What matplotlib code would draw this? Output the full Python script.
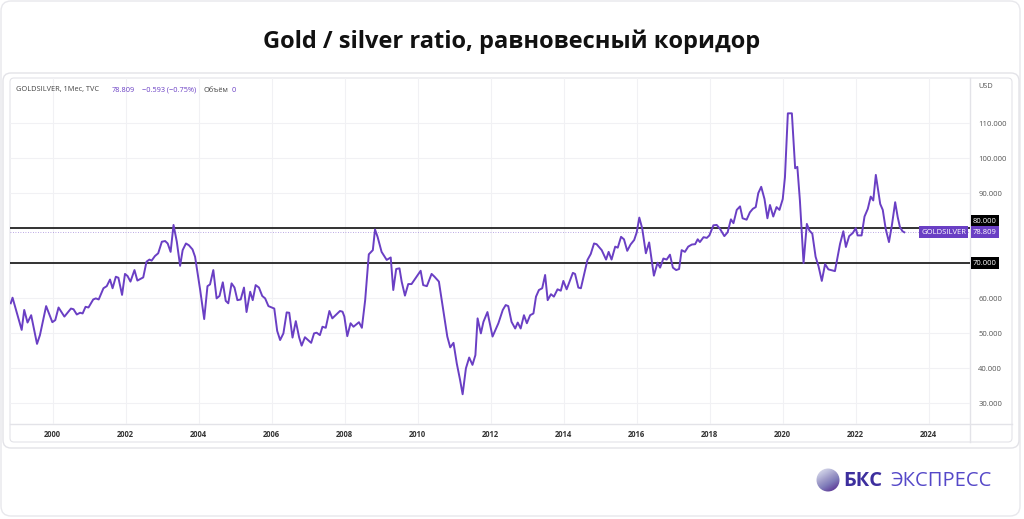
import matplotlib.pyplot as plt
import matplotlib.transforms as mtransforms
from matplotlib.patches import FancyBboxPatch, Circle
import numpy as np

# GOLDSILVER monthly ratio (decimal years)
years = [
    1998.85, 1998.90, 1999.15, 1999.22, 1999.31, 1999.41, 1999.57, 1999.65, 1999.82, 1999.99,
    2000.07, 2000.16, 2000.32, 2000.50, 2000.57, 2000.66, 2000.75, 2000.82, 2000.90, 2000.98,
    2001.11, 2001.18, 2001.26, 2001.39, 2001.48, 2001.57, 2001.64, 2001.73, 2001.80, 2001.90,
    2001.98, 2002.05, 2002.13, 2002.24, 2002.32, 2002.48, 2002.57, 2002.65, 2002.71, 2002.80,
    2002.89, 2002.99, 2003.08, 2003.15, 2003.23, 2003.31, 2003.40, 2003.49, 2003.56, 2003.65,
    2003.73, 2003.83, 2003.90, 2004.04, 2004.15, 2004.24, 2004.31, 2004.40, 2004.49, 2004.57,
    2004.66, 2004.74, 2004.81, 2004.90, 2004.98, 2005.06, 2005.15, 2005.24, 2005.31, 2005.41,
    2005.48, 2005.56, 2005.65, 2005.74, 2005.82, 2005.91, 2006.07, 2006.15, 2006.23, 2006.32,
    2006.41, 2006.48, 2006.57, 2006.66, 2006.75, 2006.82, 2006.91, 2007.08, 2007.16, 2007.23,
    2007.32, 2007.39, 2007.48, 2007.58, 2007.66, 2007.87, 2007.94, 2007.99, 2008.07, 2008.16,
    2008.24, 2008.39, 2008.47, 2008.56, 2008.66, 2008.77, 2008.83, 2008.90, 2009.01, 2009.15,
    2009.26, 2009.33, 2009.41, 2009.50, 2009.56, 2009.65, 2009.74, 2009.83, 2009.97, 2010.08,
    2010.15, 2010.25, 2010.38, 2010.46, 2010.58, 2010.70, 2010.81, 2010.89, 2010.98, 2011.07,
    2011.16, 2011.23, 2011.32, 2011.41, 2011.50, 2011.58, 2011.64, 2011.73, 2011.80, 2011.91,
    2012.05, 2012.21, 2012.33, 2012.41, 2012.48, 2012.57, 2012.67, 2012.74, 2012.82, 2012.91,
    2012.99, 2013.08, 2013.17, 2013.24, 2013.32, 2013.41, 2013.49, 2013.56, 2013.65, 2013.73,
    2013.83, 2013.92, 2013.99, 2014.08, 2014.25, 2014.31, 2014.40, 2014.47, 2014.65, 2014.74,
    2014.83, 2014.90, 2015.04, 2015.16, 2015.23, 2015.31, 2015.41, 2015.48, 2015.57, 2015.65,
    2015.74, 2015.83, 2015.93, 2016.00, 2016.07, 2016.15, 2016.25, 2016.34, 2016.47, 2016.57,
    2016.64, 2016.73, 2016.82, 2016.91, 2016.99, 2017.08, 2017.16, 2017.23, 2017.32, 2017.41,
    2017.51, 2017.60, 2017.67, 2017.73, 2017.83, 2017.92, 2017.99, 2018.10, 2018.19, 2018.28,
    2018.40, 2018.49, 2018.58, 2018.65, 2018.74, 2018.83, 2018.90, 2019.01, 2019.10, 2019.18,
    2019.26, 2019.33, 2019.41, 2019.50, 2019.58, 2019.65, 2019.74, 2019.83, 2019.91, 2020.00,
    2020.06, 2020.14, 2020.25, 2020.34, 2020.40, 2020.47, 2020.57, 2020.66, 2020.73, 2020.81,
    2020.90, 2020.98, 2021.07, 2021.16, 2021.25, 2021.43, 2021.57, 2021.66, 2021.73, 2021.82,
    2021.92, 2022.00, 2022.05, 2022.16, 2022.24, 2022.33, 2022.41, 2022.48, 2022.55, 2022.67,
    2022.74, 2022.82, 2022.91, 2022.99, 2023.08, 2023.15, 2023.21, 2023.28, 2023.33,
]
ratio = [
    58.5, 60.1, 50.9, 56.6, 53.0, 55.1, 46.9, 49.4, 57.7, 53.1,
    53.7, 57.3, 54.7, 57.0, 56.8, 55.3, 55.8, 55.6, 57.5, 57.3,
    59.6, 59.9, 59.6, 62.8, 63.4, 65.3, 62.8, 66.1, 65.8, 60.9,
    66.9, 66.3, 64.7, 68.0, 65.0, 65.9, 70.4, 71.0, 70.7, 72.0,
    72.8, 76.1, 76.3, 75.6, 73.2, 80.9, 76.1, 69.2, 73.7, 75.6,
    75.1, 73.9, 71.8, 62.3, 54.0, 63.4, 63.9, 68.0, 59.9, 60.6,
    64.5, 59.2, 58.5, 64.2, 63.0, 59.4, 59.6, 63.0, 56.0, 61.8,
    59.4, 63.7, 63.0, 60.6, 59.9, 57.7, 57.0, 50.6, 48.0, 49.9,
    55.9, 55.8, 48.7, 53.4, 48.8, 46.4, 48.8, 47.2, 49.9, 50.1,
    49.4, 51.8, 51.5, 56.3, 54.2, 56.3, 56.1, 54.7, 49.1, 52.8,
    51.8, 53.1, 51.5, 59.4, 72.5, 73.7, 79.6, 77.5, 73.2, 70.9,
    71.6, 62.3, 68.3, 68.5, 64.7, 60.7, 64.0, 64.0, 66.1, 67.8,
    63.7, 63.4, 66.9, 66.1, 64.7, 56.6, 49.0, 45.9, 47.2, 41.3,
    36.6, 32.5, 39.9, 43.0, 40.9, 43.7, 54.2, 49.9, 53.2, 56.0,
    49.0, 52.8, 56.6, 58.0, 57.7, 53.2, 51.3, 53.0, 51.3, 55.1,
    52.8, 55.1, 55.6, 60.4, 62.3, 62.8, 66.6, 59.4, 61.1, 60.4,
    62.5, 62.1, 64.9, 62.5, 67.2, 66.9, 63.0, 62.8, 70.9, 72.6,
    75.6, 75.4, 73.7, 71.0, 73.2, 71.0, 74.7, 74.4, 77.5, 76.8,
    73.5, 75.3, 76.6, 78.8, 83.0, 79.9, 72.8, 75.9, 66.4, 70.1,
    68.7, 71.3, 71.0, 72.4, 68.7, 68.0, 68.3, 73.7, 73.2, 74.7,
    75.3, 75.4, 76.8, 76.0, 77.4, 77.2, 77.9, 80.8, 80.9, 79.8,
    77.7, 78.8, 82.5, 81.4, 85.2, 86.2, 82.8, 82.4, 84.5, 85.5,
    86.0, 90.0, 91.8, 88.3, 82.8, 86.6, 83.3, 86.0, 85.2, 88.3,
    94.5, 112.8, 112.8, 97.1, 97.5, 87.9, 70.0, 81.2, 79.3, 78.4,
    71.8, 69.1, 64.9, 69.7, 68.2, 67.7, 75.5, 79.1, 74.6, 77.7,
    78.6, 80.0, 77.9, 77.9, 83.3, 85.5, 89.0, 87.9, 95.2, 86.9,
    85.2, 79.8, 76.0, 80.8, 87.4, 83.1, 80.3, 79.1, 78.8,
]

last_value = 78.809
upper_level = 80.0
lower_level = 70.0
y_ticks = [30, 40, 50, 60, 70, 80, 90, 100, 110]
x_ticks = list(range(2000, 2025, 2))

purple = '#6a3fc4'
frame = '#e3e3e8'
W, H = 1024, 519
plt.rcParams['font.family'] = ['Open Sans', 'DejaVu Sans']

fig = plt.figure(figsize=(W / 100, H / 100), dpi=100)
fig.patch.set_facecolor('white')

# background layer in pixel coordinates
bg = fig.add_axes([0, 0, 1, 1], zorder=0)
bg.add_patch(FancyBboxPatch((1, 1), 1019, 515, boxstyle='round,pad=0,rounding_size=10',
                            fc='white', ec='#e8e8ec', lw=1))
bg.add_patch(FancyBboxPatch((3, 73), 1016, 375, boxstyle='round,pad=0,rounding_size=8',
                            fc='white', ec=frame, lw=1))
bg.add_patch(FancyBboxPatch((10, 78), 1002, 364, boxstyle='round,pad=0,rounding_size=4',
                            fc='white', ec=frame, lw=0.8))
bg.plot([970, 970], [78, 442], color=frame, lw=1)
bg.plot([10, 1012], [424, 424], color=frame, lw=1)

bg.text(512, 42, 'Gold / silver ratio, равновесный коридор', ha='center', va='center',
        fontsize=17, fontweight='bold', color='#111111')

# logo
grad = np.linspace(0, 1, 64).reshape(-1, 1) + np.linspace(0, 0.6, 64).reshape(1, -1)
logo = bg.imshow(grad, cmap='Purples', vmin=-0.4, vmax=1.8, extent=(816, 840, 492, 468), zorder=2)
circ = Circle((828, 480), 11.5, fc='none', ec='none')
bg.add_patch(circ)
logo.set_clip_path(circ)
bg.set_xlim(0, W)
bg.set_ylim(H, 0)
bg.axis('off')
bg.text(843, 481, 'БКС', fontsize=14.5, fontweight='bold', color='#3d2f9e', va='center')
bg.text(890, 481, 'ЭКСПРЕСС', fontsize=14.5, color='#5548c8', va='center')

# chart
ax = fig.add_axes([10 / W, 1 - 424 / H, 960 / W, 346 / H], zorder=1)
ax.set_facecolor('none')
ax.set_xlim(1998.83, 2025.13)
ax.set_ylim(24.0, 122.9)
ax.set_xticks(x_ticks)
ax.set_xticklabels([str(y) for y in x_ticks], fontweight='bold')
ax.set_yticks(y_ticks)
ax.set_yticklabels(['' if v in (upper_level, lower_level) else '%.3f' % v for v in y_ticks])
ax.yaxis.tick_right()
ax.tick_params(axis='both', length=0, labelsize=5.5, labelcolor='#333333')
ax.tick_params(axis='y', pad=6, labelcolor='#555555')
ax.tick_params(axis='x', pad=4)
for s in ax.spines.values():
    s.set_visible(False)
ax.grid(True, color='#f1f1f4', lw=0.8)
ax.set_axisbelow(True)

ax.axhline(last_value, color=purple, lw=0.6, ls=(0, (1, 2)), alpha=0.6)
ax.axhline(upper_level, color='#222222', lw=1.3)
ax.axhline(lower_level, color='#222222', lw=1.3)
ax.plot(years, ratio, color=purple, lw=1.4)

blend = mtransforms.blended_transform_factory(ax.transAxes, ax.transData)
box = dict(boxstyle='square,pad=0.3', ec='none')
lab = dict(xycoords=blend, textcoords='offset pixels', va='center', fontsize=5.5,
           color='white', annotation_clip=False)
ax.annotate('80.000', xy=(1, upper_level), xytext=(3, 7), ha='left',
            bbox=dict(box, fc='black'), **lab)
ax.annotate('70.000', xy=(1, lower_level), xytext=(3, 0), ha='left',
            bbox=dict(box, fc='black'), **lab)
ax.annotate('78.809', xy=(1, last_value), xytext=(3, 0), ha='left',
            bbox=dict(box, fc=purple), **lab)
ax.annotate('GOLDSILVER', xy=(1, last_value), xytext=(-4, 0), ha='right',
            bbox=dict(box, fc=purple), **lab)

# header of the TradingView panel, drawn above the grid
hdr = dict(fontsize=5.3, va='center', zorder=5)
fig.text(16 / W, 1 - 90 / H, 'GOLDSILVER, 1Мес, TVC', color='#444444', **hdr)
fig.text(112 / W, 1 - 90 / H, '78.809', color=purple, **hdr)
fig.text(142 / W, 1 - 90 / H, '\u22120.593 (\u22120.75%)', color=purple, **hdr)
fig.text(204 / W, 1 - 90 / H, 'Объём', color='#444444', **hdr)
fig.text(232 / W, 1 - 90 / H, '0', color=purple, **hdr)
fig.text(978 / W, 1 - 87 / H, 'USD', color='#555555', **hdr)

fig.savefig('out.png', dpi=100)
